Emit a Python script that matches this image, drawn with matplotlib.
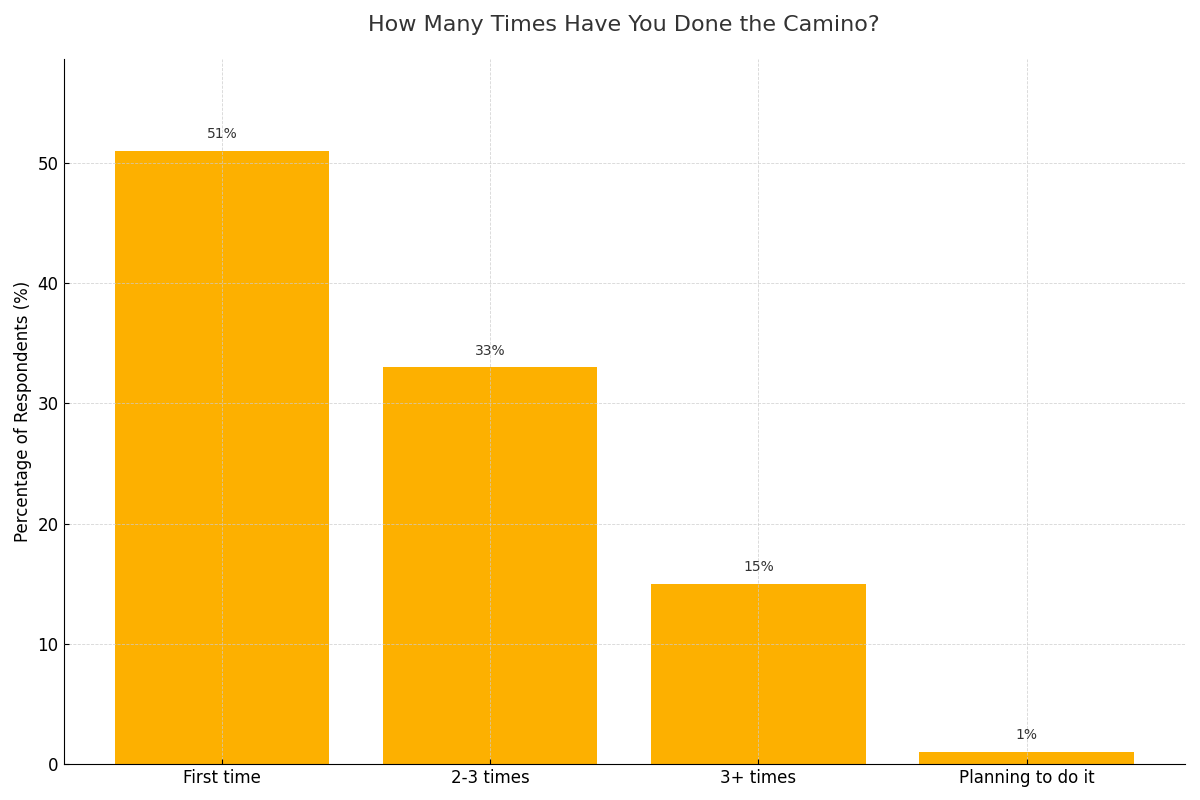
import matplotlib
matplotlib.use("Agg")
import matplotlib.pyplot as plt

# survey answers
categories = ["First time", "2-3 times", "3+ times", "Planning to do it"]
percentages = [51, 33, 15, 1]

fig, ax = plt.subplots(figsize=(12, 8), dpi=100)
bars = ax.bar(categories, percentages, color="#FDB000", width=0.8)

for b, v in zip(bars, percentages):
    ax.text(b.get_x() + b.get_width() / 2, b.get_height() + 0.8, f"{v}%",
            ha="center", va="bottom", fontsize=10, color="#333333")

ax.set_ylim(0, max(percentages) * 1.15)
ax.set_title("How Many Times Have You Done the Camino?", fontsize=16,
             color="#333333", pad=20)
ax.set_ylabel("Percentage of Respondents (%)", fontsize=12)
ax.tick_params(axis="both", labelsize=12, direction="in")
ax.grid(True, linestyle="--", linewidth=0.6, color="#cccccc", alpha=0.8)
ax.set_axisbelow(False)
for s in ["top", "right"]:
    ax.spines[s].set_visible(False)

plt.tight_layout()
plt.subplots_adjust(left=0.053, bottom=0.045)
plt.savefig("out.png")
